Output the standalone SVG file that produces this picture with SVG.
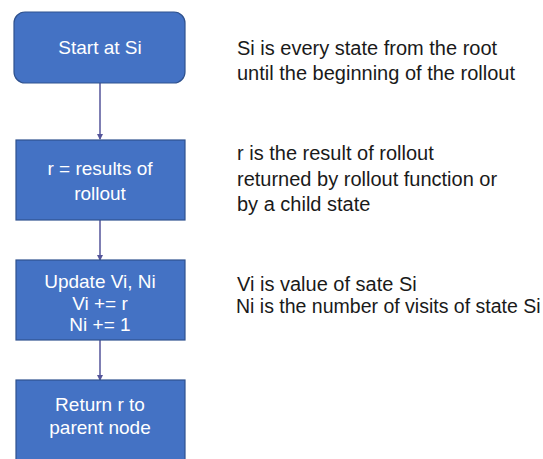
<svg xmlns="http://www.w3.org/2000/svg" width="543" height="459" viewBox="0 0 543 459">
<style>
.box{fill:#4472C4;stroke:#2F528F;stroke-width:1.2}
.bt{font-family:"Liberation Sans",Arial,sans-serif;font-size:19px;fill:#ffffff;text-anchor:middle}
.nt{font-family:"Liberation Sans",Arial,sans-serif;font-size:20px;fill:#1a1a1a}
.con{stroke:#55559a;stroke-width:1.5;fill:none}
</style>
<defs>
<marker id="ah" markerWidth="6" markerHeight="6" refX="5" refY="3" orient="auto" markerUnits="userSpaceOnUse">
<path d="M0,0 L6,3 L0,6 z" fill="#55559a"/>
</marker>
</defs>
<rect width="543" height="459" fill="#ffffff"/>
<g id="connectors">
<line class="con" x1="100" y1="83" x2="100" y2="139" marker-end="url(#ah)"/>
<line class="con" x1="100" y1="220" x2="100" y2="260" marker-end="url(#ah)"/>
<line class="con" x1="100" y1="340" x2="100" y2="380" marker-end="url(#ah)"/>
</g>
<g id="start">
<rect class="box" x="14" y="12" width="171" height="71" rx="11"/>
<text class="bt" x="100" y="54">Start at Si</text>
</g>
<g id="results">
<rect class="box" x="16" y="140" width="169" height="80"/>
<text class="bt" x="100" y="175">r = results of</text>
<text class="bt" x="100" y="200">rollout</text>
</g>
<g id="update">
<rect class="box" x="16" y="260" width="169" height="80"/>
<text class="bt" x="100" y="288">Update Vi, Ni</text>
<text class="bt" x="100" y="310">Vi += r</text>
<text class="bt" x="100" y="331">Ni += 1</text>
</g>
<g id="return">
<rect class="box" x="16" y="380" width="169" height="85"/>
<text class="bt" x="100" y="411">Return r to</text>
<text class="bt" x="100" y="434">parent node</text>
</g>
<g id="notes">
<text class="nt" x="237" y="55">Si is every state from the root</text>
<text class="nt" x="237" y="80">until the beginning of the rollout</text>
<text class="nt" x="237" y="160">r is the result of rollout</text>
<text class="nt" x="237" y="186">returned by rollout function or</text>
<text class="nt" x="237" y="211">by a child state</text>
<text class="nt" x="237" y="291">Vi is value of sate Si</text>
<text class="nt" x="236" y="313" style="font-size:19.5px">Ni is the number of visits of state Si</text>
</g>
</svg>
